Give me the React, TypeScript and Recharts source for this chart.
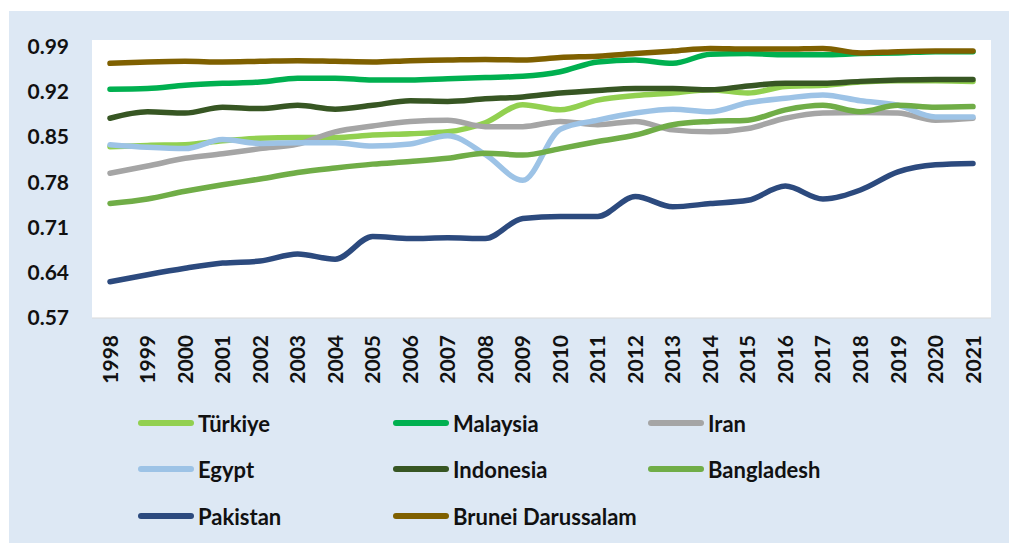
import React from 'react'
import { LineChart, Line, XAxis, YAxis, CartesianGrid } from 'recharts'
import { Legend } from 'recharts'

const years = [
  '1998', '1999', '2000', '2001', '2002', '2003', '2004', '2005', '2006', '2007', '2008', '2009',
  '2010', '2011', '2012', '2013', '2014', '2015', '2016', '2017', '2018', '2019', '2020', '2021',
]

const turkiye = [0.835, 0.837, 0.838, 0.844, 0.848, 0.849, 0.849, 0.853, 0.855, 0.858, 0.872, 0.9, 0.892, 0.907, 0.914, 0.918, 0.923, 0.918, 0.928, 0.93, 0.935, 0.937, 0.937, 0.936]
const malaysia = [0.924, 0.925, 0.93, 0.933, 0.935, 0.941, 0.941, 0.938, 0.938, 0.94, 0.942, 0.944, 0.951, 0.966, 0.969, 0.964, 0.978, 0.979, 0.977, 0.977, 0.979, 0.98, 0.982, 0.982]
const iran = [0.794, 0.805, 0.817, 0.824, 0.832, 0.839, 0.858, 0.867, 0.874, 0.876, 0.866, 0.866, 0.874, 0.869, 0.874, 0.861, 0.858, 0.863, 0.879, 0.887, 0.888, 0.887, 0.876, 0.879]
const egypt = [0.838, 0.834, 0.832, 0.846, 0.84, 0.841, 0.841, 0.836, 0.839, 0.852, 0.823, 0.783, 0.862, 0.876, 0.887, 0.893, 0.889, 0.903, 0.91, 0.915, 0.906, 0.899, 0.881, 0.881]
const indonesia = [0.879, 0.889, 0.887, 0.896, 0.894, 0.899, 0.893, 0.899, 0.906, 0.905, 0.909, 0.912, 0.918, 0.922, 0.925, 0.925, 0.923, 0.929, 0.933, 0.933, 0.936, 0.938, 0.939, 0.939]
const bangladesh = [0.747, 0.754, 0.766, 0.776, 0.785, 0.795, 0.802, 0.808, 0.812, 0.817, 0.825, 0.822, 0.832, 0.843, 0.853, 0.869, 0.874, 0.876, 0.892, 0.899, 0.889, 0.899, 0.896, 0.897]
const pakistan = [0.626, 0.637, 0.647, 0.655, 0.658, 0.669, 0.661, 0.696, 0.693, 0.694, 0.693, 0.724, 0.727, 0.727, 0.758, 0.742, 0.747, 0.752, 0.774, 0.754, 0.768, 0.796, 0.807, 0.809]
const brunei = [0.964, 0.966, 0.967, 0.966, 0.967, 0.968, 0.967, 0.966, 0.968, 0.969, 0.97, 0.969, 0.973, 0.975, 0.979, 0.983, 0.987, 0.986, 0.986, 0.987, 0.98, 0.982, 0.983, 0.983]

const yTicks = [0.57, 0.64, 0.71, 0.78, 0.85, 0.92, 0.99]

const series = [
  { key: 'turkiye', name: 'Türkiye', color: '#92d050', values: turkiye },
  { key: 'malaysia', name: 'Malaysia', color: '#00b050', values: malaysia },
  { key: 'iran', name: 'Iran', color: '#a5a5a5', values: iran },
  { key: 'egypt', name: 'Egypt', color: '#9dc3e6', values: egypt },
  { key: 'indonesia', name: 'Indonesia', color: '#375623', values: indonesia },
  { key: 'bangladesh', name: 'Bangladesh', color: '#70ad47', values: bangladesh },
  { key: 'pakistan', name: 'Pakistan', color: '#2c4a7e', values: pakistan },
  { key: 'brunei', name: 'Brunei Darussalam', color: '#7f6000', values: brunei },
]

const data = years.map((year, i) => {
  const row: Record<string, string | number> = { year }
  series.forEach((s) => {
    row[s.key] = s.values[i]
  })
  return row
})

const FONT = 'Lato, "Open Sans", sans-serif'

// rotated year labels under the plot
const YearTick = (props: any) => {
  const { x, y, payload } = props
  return (
    <g transform={`translate(${x},${y})`}>
      <text
        transform="rotate(-90)"
        x={-9}
        y={0}
        dy="0.36em"
        textAnchor="end"
        fill="#111"
        fontFamily={FONT}
        fontWeight={700}
        fontSize={21}
      >
        {payload.value}
      </text>
    </g>
  )
}

const legendCols = [129, 384, 639]
const legendRows = [20, 66, 113]

const LegendBox = () => (
  <div style={{ position: 'relative', width: 1000, height: 140 }}>
    {series.map((s, i) => {
      const left = legendCols[i % 3]
      const top = legendRows[Math.floor(i / 3)]
      return (
        <div key={s.key} style={{ position: 'absolute', left, top: top - 14, height: 28, display: 'flex', alignItems: 'center' }}>
          <div style={{ width: 56, height: 6, borderRadius: 3, background: s.color }} />
          <span style={{ marginLeft: 4, fontFamily: FONT, fontWeight: 700, fontSize: 22, color: '#111', whiteSpace: 'nowrap' }}>
            {s.name}
          </span>
        </div>
      )
    })}
  </div>
)

export default function App() {
  return (
    <div style={{ position: 'absolute', left: 9, top: 11, width: 1000, height: 532, background: '#dde8f4' }}>
      <LineChart width={1000} height={532} data={data} margin={{ top: 29, right: 18, left: 0, bottom: 0 }}>
        <CartesianGrid fill="#ffffff" horizontal={false} vertical={false} />
        <XAxis
          dataKey="year"
          interval={0}
          height={85}
          padding={{ left: 18, right: 18 }}
          axisLine={{ stroke: '#d9d9d9', strokeWidth: 1 }}
          tickLine={false}
          tick={<YearTick />}
        />
        <YAxis
          width={83}
          domain={[0.57, 1.0]}
          ticks={yTicks}
          allowDataOverflow
          axisLine={false}
          tickLine={false}
          tickMargin={17}
          tickFormatter={(v: number) => v.toFixed(2)}
          tick={{ fill: '#111', fontFamily: FONT, fontWeight: 700, fontSize: 21 }}
        />
        <Legend verticalAlign="bottom" content={<LegendBox />} wrapperStyle={{ left: 0, bottom: 0, width: 1000, height: 140 }} />
        {series.map((s) => (
          <Line
            key={s.key}
            type="monotone"
            dataKey={s.key}
            name={s.name}
            stroke={s.color}
            strokeWidth={5.5}
            strokeLinecap="round"
            dot={false}
            activeDot={false}
            isAnimationActive={false}
          />
        ))}
      </LineChart>
    </div>
  )
}
